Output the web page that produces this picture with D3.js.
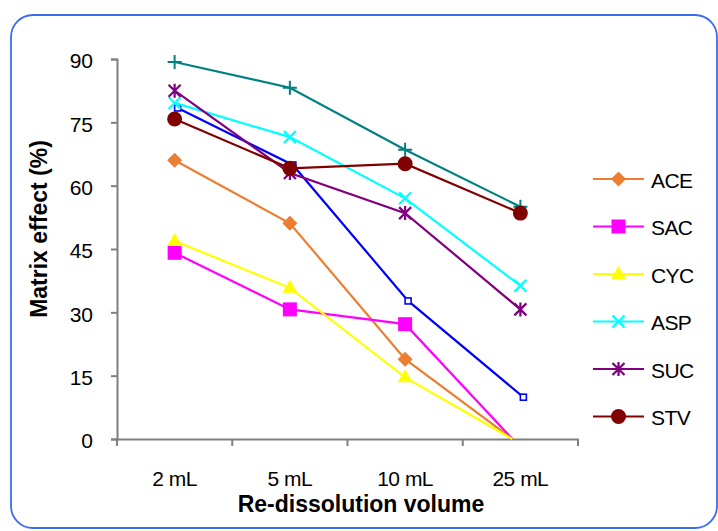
<!DOCTYPE html>
<html><head><meta charset="utf-8">
<script src="https://cdn.jsdelivr.net/npm/d3@7"></script>
<style>body{margin:0;background:#fff;}svg{display:block;font-family:"Liberation Sans",Arial,sans-serif;}</style>
</head><body>
<svg id="c" width="718" height="531"></svg>
<script>
const categories = ["2 mL","5 mL","10 mL","25 mL"];
const yTicks = [0,15,30,45,60,75,90];
const seriesNames = ["ACE","SAC","CYC","ASP","SUC","STV","S7","S8"];
const ACE = [66.0, 51.1, 18.9, 0];
const SAC = [44.1, 30.7, 27.2, 0];
const CYC = [46.9, 35.8, 14.6, 0];
const ASP = [79.6, 71.5, 57.0, 36.3];
const SUC = [82.5, 63.0, 53.5, 30.7];
const STV = [75.8, 64.1, 65.2, 53.5];
const S7 = [78.4, 64.9, 32.7, 9.9];   // blue, not in legend
const S8 = [89.3, 83.2, 68.5, 55.0];  // teal, not in legend

const series = [
  {name:"S7", vals:S7, color:"#0000FF", marker:"hsquare", legend:false, dx:3},
  {name:"S8", vals:S8, color:"#008080", marker:"plus", legend:false, dx:0},
  {name:"ACE", vals:ACE, color:"#ED7D31", marker:"diamond", legend:true, dx:0},
  {name:"SAC", vals:SAC, color:"#FF00FF", marker:"square", legend:true, dx:0},
  {name:"CYC", vals:CYC, color:"#FFFF00", marker:"triangle", legend:true, dx:0},
  {name:"ASP", vals:ASP, color:"#00FFFF", marker:"x", legend:true, dx:0},
  {name:"SUC", vals:SUC, color:"#800080", marker:"star", legend:true, dx:0},
  {name:"STV", vals:STV, color:"#800000", marker:"circle", legend:true, dx:0}
];

const svg = d3.select("#c");
// border
svg.append("rect").attr("x",11).attr("y",15).attr("width",706).attr("height",513)
  .attr("rx",22).attr("ry",22).attr("fill","#fff").attr("stroke","#3B6CF0").attr("stroke-width",1.8);

const L=117, R=578, T=59, B=439;
const x = d3.scaleBand().domain(categories).range([L,R]);
const y = d3.scaleLinear().domain([0,90]).range([B,T]);

const axisColor="#7f7f7f";
// y axis
const ya = svg.append("g").attr("transform",`translate(${L},0)`)
  .call(d3.axisLeft(y).tickValues(yTicks).tickSize(6).tickPadding(18));
ya.select(".domain").attr("stroke",axisColor).attr("stroke-width",2);
ya.selectAll(".tick line").attr("stroke",axisColor).attr("stroke-width",2);
ya.selectAll("text").attr("font-size",21).attr("dy","0.42em").attr("fill","#000");

// x axis
const xa = svg.append("g").attr("transform",`translate(0,${B})`)
  .call(d3.axisBottom(x).tickSize(0).tickPadding(32));
xa.select(".domain").attr("stroke",axisColor).attr("stroke-width",2);
xa.selectAll("text").attr("font-size",21).attr("letter-spacing","-0.5px").attr("fill","#000");
// category boundary ticks
const bounds = categories.map(c=>x(c)).concat([R]);
svg.append("g").selectAll("line").data(bounds).join("line")
  .attr("x1",d=>d).attr("x2",d=>d).attr("y1",B).attr("y2",B+7)
  .attr("stroke",axisColor).attr("stroke-width",2);

// titles
svg.append("text").attr("x",361).attr("y",512).attr("text-anchor","middle")
  .attr("font-size",23).attr("font-weight","bold").text("Re-dissolution volume");
svg.append("text").attr("transform","translate(47,229) rotate(-90)").attr("text-anchor","middle")
  .attr("font-size",23).attr("font-weight","bold").text("Matrix effect (%)");

function drawMarker(g, type, color, cx, cy){
  if(type==="diamond") g.append("path").attr("d",`M${cx},${cy-7.5}L${cx+7.5},${cy}L${cx},${cy+7.5}L${cx-7.5},${cy}Z`).attr("fill",color);
  else if(type==="square") g.append("rect").attr("x",cx-7).attr("y",cy-7).attr("width",14).attr("height",14).attr("fill",color);
  else if(type==="hsquare") g.append("rect").attr("x",cx-3).attr("y",cy-3).attr("width",6).attr("height",6).attr("fill","#fff").attr("stroke",color).attr("stroke-width",1.6);
  else if(type==="triangle") g.append("path").attr("d",`M${cx},${cy-8}L${cx+7.5},${cy+5}L${cx-7.5},${cy+5}Z`).attr("fill",color);
  else if(type==="circle") g.append("circle").attr("cx",cx).attr("cy",cy).attr("r",7.5).attr("fill",color);
  else if(type==="x") g.append("path").attr("d",`M${cx-6},${cy-6}L${cx+6},${cy+6}M${cx-6},${cy+6}L${cx+6},${cy-6}`).attr("stroke",color).attr("stroke-width",2.2);
  else if(type==="plus") g.append("path").attr("d",`M${cx-7},${cy}L${cx+7},${cy}M${cx},${cy-7}L${cx},${cy+7}`).attr("stroke",color).attr("stroke-width",2);
  else if(type==="star") g.append("path").attr("d",`M${cx-6},${cy-6}L${cx+6},${cy+6}M${cx-6},${cy+6}L${cx+6},${cy-6}M${cx},${cy-7}L${cx},${cy+7}`).attr("stroke",color).attr("stroke-width",2.2);
}

const cxOf = (s,i)=> x(categories[i]) + x.bandwidth()/2 + s.dx - (s.vals[i]===0 && s.marker!=="hsquare" ? 8 : 0);

series.forEach(s=>{
  const g = svg.append("g");
  const line = d3.line().x((d,i)=>cxOf(s,i)).y(d=>y(d));
  g.append("path").datum(s.vals).attr("d",line).attr("fill","none")
    .attr("stroke",s.color).attr("stroke-width",2.2);
  s.vals.forEach((v,i)=>{ if(v>0) drawMarker(g, s.marker, s.color, cxOf(s,i), y(v)); });
});

// legend
const legendS = series.filter(s=>s.legend);
const lg = svg.append("g");
legendS.forEach((s,i)=>{
  const ly = 179 + i*47.5;
  lg.append("line").attr("x1",593).attr("x2",644).attr("y1",ly).attr("y2",ly).attr("stroke",s.color).attr("stroke-width",2.2);
  drawMarker(lg, s.marker, s.color, 618.5, ly);
  lg.append("text").attr("x",651).attr("y",ly+8.5).attr("font-size",21).attr("letter-spacing","-0.6px").text(s.name);
});
</script>
</body></html>
